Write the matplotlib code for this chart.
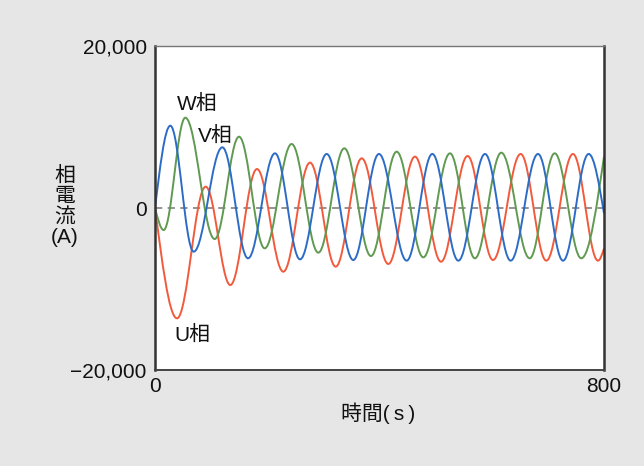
import matplotlib
matplotlib.use("Agg")
import matplotlib.pyplot as plt
from matplotlib.path import Path
from matplotlib.patches import PathPatch

plt.rcParams['font.family'] = ['Liberation Sans', 'Noto Sans CJK JP', 'DejaVu Sans']

# extrema: (time, current A)
u_t = [0, 39.2, 90.3, 134.2, 181.7, 228.6, 276.2, 322, 368.3, 415.7, 463.2,
       509.6, 557, 602.2, 651.5, 697.2, 744.7, 789.3, 800]
u_v = [0, -13620, 2630, -9510, 4810, -7860, 5600, -7240, 6130, -6910, 6340,
       -6630, 6420, -6420, 6670, -6500, 6670, -6500, -5000]

v_t = [0, 15.4, 54, 106.3, 149.7, 195.4, 243.5, 291, 337.3, 384.8, 430.6,
       478.1, 525.6, 570, 617, 667.6, 712.1, 759.5, 800]
v_v = [0, -2720, 11150, -3830, 8800, -4980, 7900, -5510, 7370, -5930, 6950,
       -6090, 6750, -6210, 6830, -6210, 6750, -6210, 6340]

w_t = [0, 27.3, 68.9, 120, 165.7, 213.8, 258.4, 305.9, 353.3, 399, 448.4,
       494.1, 540.5, 588, 633.7, 682.4, 727, 772.7, 800]
w_v = [0, 10160, -5390, 7490, -6210, 6750, -6340, 6670, -6420, 6670, -6500,
       6670, -6500, 6670, -6500, 6670, -6500, 6670, -650]

labels = ["W相", "V相", "U相"]
label_pos = [(75, 12800), (107, 8800), (67, -15700)]


def wave_path(ts, vs):
    # smooth curve through the extrema with cubic bezier segments
    verts = [(ts[0], vs[0])]
    codes = [Path.MOVETO]
    n = len(ts)
    for i in range(n - 1):
        t0, v0, t1, v1 = ts[i], vs[i], ts[i + 1], vs[i + 1]
        L = t1 - t0
        if i == 0:
            c1 = (t0 + 0.3 * L, v0 + 0.45 * (v1 - v0))
        else:
            c1 = (t0 + 0.37 * L, v0)
        if i == n - 2:
            c2 = (t1 - 0.3 * L, v1 - 0.45 * (v1 - v0))
        else:
            c2 = (t1 - 0.37 * L, v1)
        verts += [c1, c2, (t1, v1)]
        codes += [Path.CURVE4] * 3
    return Path(verts, codes)


fig = plt.figure(figsize=(6.44, 4.66), dpi=100, facecolor='#e6e6e6')
ax = fig.add_axes([155 / 644, 96 / 466, 449 / 644, 324 / 466])
ax.set_facecolor('white')

ax.axhline(0, color='#8a8a8a', lw=1.3, ls=(0, (4, 3)), zorder=1)

for ts, vs, col in [(u_t, u_v, '#f25a3c'), (v_t, v_v, '#5f9a50'), (w_t, w_v, '#2c6cc6')]:
    ax.add_patch(PathPatch(wave_path(ts, vs), fill=False, edgecolor=col, lw=1.4, zorder=2))

for txt, (x, y) in zip(labels, label_pos):
    ax.text(x, y, txt, fontsize=15, ha='center', va='center', color='#111111')

ax.set_xlim(0, 800)
ax.set_ylim(-20000, 20000)
ax.set_xticks([0, 800])
ax.set_xticklabels(['0', '800'])
ax.set_yticks([-20000, 0, 20000])
ax.set_yticklabels(['\u221220,000', '0', '20,000'])
ax.tick_params(length=0, labelsize=15, colors='#111111')
ax.tick_params(axis='x', pad=5)
ax.tick_params(axis='y', pad=6)

for side, lw, col in [('left', 1.8, '#333333'), ('right', 1.8, '#333333'),
                      ('bottom', 1.4, '#444444'), ('top', 1.0, '#777777')]:
    ax.spines[side].set_linewidth(lw)
    ax.spines[side].set_color(col)

fig.text(65 / 644, 1 - 207 / 466, "相\n電\n流\n(A)", fontsize=15, ha='center',
         va='center', linespacing=1.08, color='#111111')
fig.text(378 / 644, 1 - 413 / 466, "時間(\u2009s\u2009)", fontsize=15, ha='center',
         va='center', color='#111111')

fig.savefig('out.png', dpi=100, facecolor=fig.get_facecolor())
